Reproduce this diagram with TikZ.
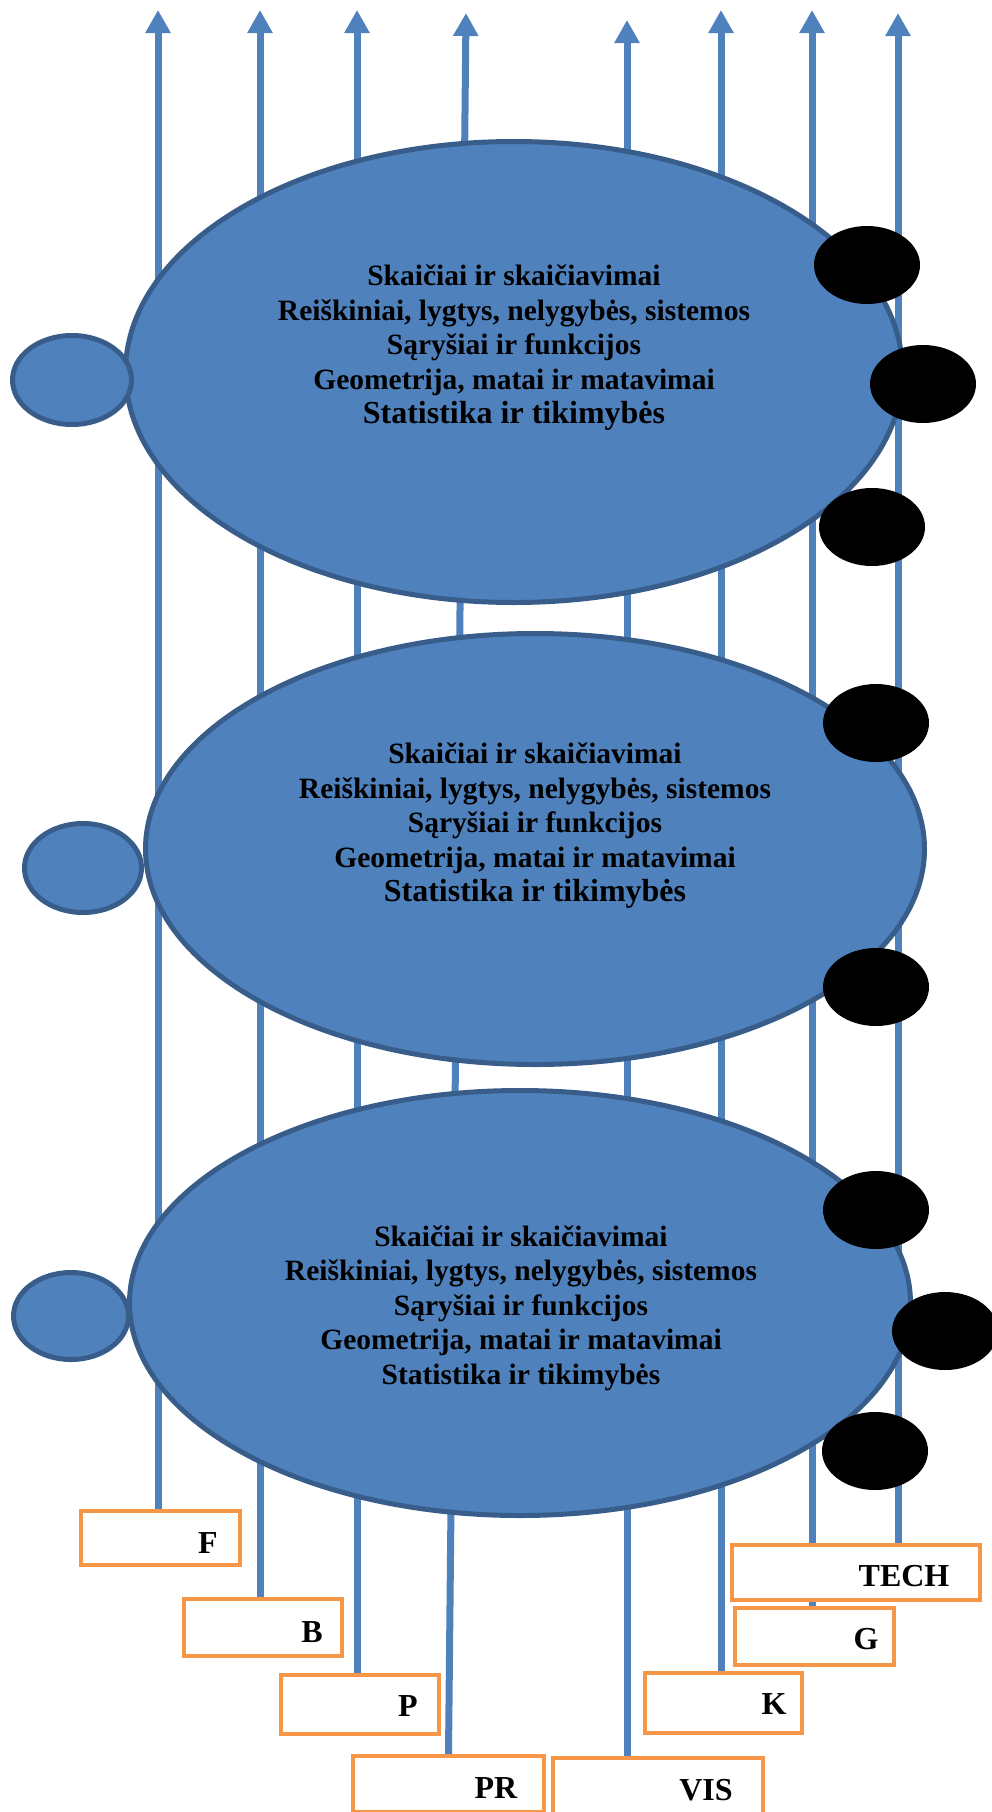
\documentclass[tikz,border=0pt]{standalone}
\usepackage{fontspec}
\setmainfont{Liberation Serif}
\usetikzlibrary{shapes.geometric,arrows.meta}
\definecolor{areablue}{HTML}{4F81BD}
\definecolor{areaedge}{HTML}{385D8A}
\definecolor{tagorange}{HTML}{F79646}
\pgfdeclarelayer{background}
\pgfsetlayers{background,main}

\begin{document}
\begin{tikzpicture}[x=1pt,y=-1pt,
    flow/.style={areablue,line width=7pt,-{Triangle[width=24pt,length=23pt]}},
    area/.style={ellipse,draw=areaedge,line width=5pt,fill=areablue,inner sep=0pt},
    topics/.style={align=center,inner sep=0pt,font=\bfseries\fontsize{29.5}{34.5}\selectfont},
    blob/.style={ellipse,fill=black,minimum width=106pt,minimum height=78pt,inner sep=0pt},
    tag/.style={draw=tagorange,line width=4pt,fill=white,inner sep=0pt},
    tagtext/.style={anchor=base,inner sep=0pt,font=\bfseries\fontsize{32}{38}\selectfont}]
    \useasboundingbox (0,0) rectangle (991,1812);

    % big areas
    \node[area,minimum width=777pt,minimum height=461pt] (area1) at (514,372) {};
    \node[area,minimum width=779pt,minimum height=431pt] (area2) at (535,849) {};
    \node[area,minimum width=781pt,minimum height=425pt] (area3) at (520,1303) {};
    \node[topics] (list1) at (514,348) {Skaičiai ir skaičiavimai\\ Reiškiniai, lygtys, nelygybės, sistemos\\ Sąryšiai ir funkcijos\\ Geometrija, matai ir matavimai\\ {\fontsize{32}{36}\selectfont Statistika ir tikimybės}};
    \node[topics] (list2) at (535,826) {Skaičiai ir skaičiavimai\\ Reiškiniai, lygtys, nelygybės, sistemos\\ Sąryšiai ir funkcijos\\ Geometrija, matai ir matavimai\\ {\fontsize{32}{36}\selectfont Statistika ir tikimybės}};
    \node[topics] (list3) at (521,1308) {Skaičiai ir skaičiavimai\\ Reiškiniai, lygtys, nelygybės, sistemos\\ Sąryšiai ir funkcijos\\ Geometrija, matai ir matavimai\\ Statistika ir tikimybės};

    % small ones on the left
    \node[area,minimum width=119pt,minimum height=89pt] (side1) at (72,380) {};
    \node[area,minimum width=117pt,minimum height=89pt] (side2) at (83,868) {};
    \node[area,minimum width=115pt,minimum height=87pt] (side3) at (71,1316) {};

    % black ones on the right
    \node[blob] (dot1a) at (867,265) {};
    \node[blob] (dot1b) at (923,384) {};
    \node[blob] (dot1c) at (872,527) {};
    \node[blob] (dot2a) at (876,723) {};
    \node[blob] (dot2b) at (876,987) {};
    \node[blob] (dot3a) at (876,1210) {};
    \node[blob] (dot3b) at (945,1331) {};
    \node[blob] (dot3c) at (875,1451) {};

    % boxes
    \node[tag,minimum width=159pt,minimum height=54pt] (boxF) at (160.5,1538) {};
    \node[tag,minimum width=158pt,minimum height=57pt] (boxB) at (263,1627.5) {};
    \node[tag,minimum width=158pt,minimum height=59pt] (boxP) at (360,1704.5) {};
    \node[tag,minimum width=191pt,minimum height=56pt] (boxPR) at (448.5,1784) {};
    \node[tag,minimum width=210pt,minimum height=56pt] (boxVIS) at (658,1786) {};
    \node[tag,minimum width=157pt,minimum height=60pt] (boxK) at (723.5,1703) {};
    \node[tag,minimum width=248pt,minimum height=55pt] (boxTECH) at (856,1572.5) {};
    \node[tag,minimum width=159pt,minimum height=57pt] (boxG) at (814.5,1636.5) {};
    \node[tagtext] (lblF) at (208,1553) {F};
    \node[tagtext] (lblB) at (312,1642) {B};
    \node[tagtext] (lblP) at (408,1716) {P};
    \node[tagtext] (lblPR) at (496,1798) {PR};
    \node[tagtext] (lblVIS) at (706,1800) {VIS};
    \node[tagtext] (lblK) at (774,1714) {K};
    \node[tagtext] (lblTECH) at (904,1586) {TECH};
    \node[tagtext] (lblG) at (866,1649) {G};

    % arrow ends
    \coordinate (tF) at (158,10);
    \coordinate (tB) at (260,10);
    \coordinate (tP) at (357,10);
    \coordinate (tPR) at (466,13);
    \coordinate (tVIS) at (627,20);
    \coordinate (tK) at (721,10);
    \coordinate (tG) at (812,10);
    \coordinate (tTECH) at (898,13);

    \begin{pgfonlayer}{background}
        \draw[flow] (tF |- boxF.north) -- (tF);
        \draw[flow] (tB |- boxB.north) -- (tB);
        \draw[flow] (tP |- boxP.north) -- (tP);
        \draw[flow] (boxPR.north) -- (tPR);
        \draw[flow] (tVIS |- boxVIS.north) -- (tVIS);
        \draw[flow] (tK |- boxK.north) -- (tK);
        \draw[flow] (tG |- boxG.north) -- (tG);
        \draw[flow] (tTECH |- boxTECH.north) -- (tTECH);
    \end{pgfonlayer}
\end{tikzpicture}
\end{document}
